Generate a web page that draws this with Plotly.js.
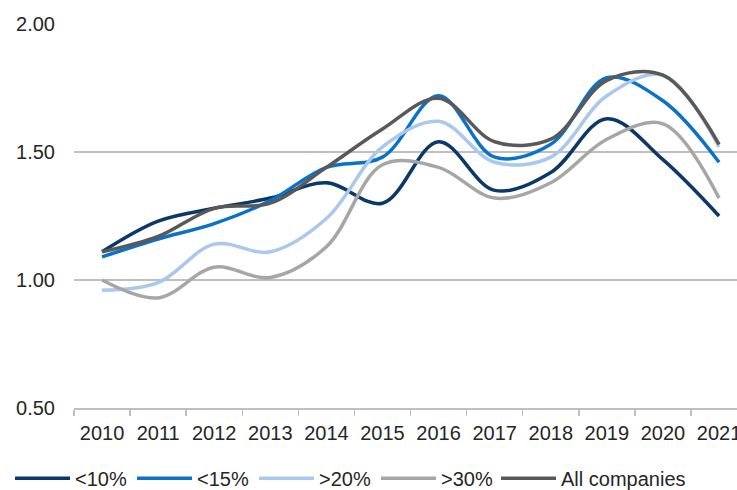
<!DOCTYPE html>
<html>
<head>
<meta charset="utf-8">
<script src="https://cdn.plot.ly/plotly-3.0.1.min.js"></script>
<style>
  html, body { margin: 0; padding: 0; background: #fff; }
  #chart { width: 737px; height: 490px; }
</style>
</head>
<body>
<div id="chart"></div>
<script>
var years = ['2010', '2011', '2012', '2013', '2014', '2015', '2016', '2017', '2018', '2019', '2020', '2021']

var below10 = [1.11, 1.23, 1.28, 1.32, 1.38, 1.30, 1.54, 1.35, 1.42, 1.63, 1.47, 1.25]
var below15 = [1.09, 1.16, 1.22, 1.31, 1.44, 1.48, 1.72, 1.48, 1.53, 1.79, 1.70, 1.46]
var above20 = [0.96, 0.99, 1.14, 1.11, 1.24, 1.52, 1.62, 1.46, 1.48, 1.72, 1.80, 1.52]
var above30 = [1.00, 0.93, 1.05, 1.01, 1.13, 1.45, 1.44, 1.32, 1.38, 1.55, 1.61, 1.32]
var allCompanies = [1.11, 1.17, 1.28, 1.30, 1.44, 1.59, 1.71, 1.54, 1.55, 1.78, 1.80, 1.53]

var names = ['<10%', '<15%', '>20%', '>30%', 'All companies']
var colors = ['#0b3866', '#0a72c8', '#a9c8ec', '#a6a6a6', '#595959']
var series = [below10, below15, above20, above30, allCompanies]

// last entry goes in its own legend so the fixed entry width doesn't clip it
var data = series.map(function (ys, i) {
  return {
    x: years,
    y: ys,
    type: 'scatter',
    mode: 'lines',
    name: names[i],
    legend: i === 4 ? 'legend2' : 'legend',
    line: { color: colors[i], width: 3.5, shape: 'spline', smoothing: 1 },
    hoverinfo: 'skip'
  }
})

var legendBase = {
  orientation: 'h',
  xref: 'container',
  yref: 'container',
  xanchor: 'left',
  y: 0.024,
  yanchor: 'middle',
  itemwidth: 55,
  font: { size: 20, color: '#262626' },
  traceorder: 'normal'
}

var layout = {
  width: 737,
  height: 490,
  margin: { l: 74, r: 0, t: 24, b: 82 },
  paper_bgcolor: '#ffffff',
  plot_bgcolor: '#ffffff',
  font: { family: 'Liberation Sans, Arial, sans-serif', size: 20, color: '#262626' },
  showlegend: true,
  legend: Object.assign({}, legendBase, { x: 0.0136, entrywidth: 52 }),
  legend2: Object.assign({}, legendBase, { x: 0.673 }),
  xaxis: {
    type: 'category',
    range: [-0.5, 11.32],
    showgrid: false,
    showline: true,
    linecolor: '#bfbfbf',
    linewidth: 1.5,
    ticks: 'outside',
    tickson: 'boundaries',
    ticklen: 6,
    tickcolor: '#bfbfbf',
    tickwidth: 1.5,
    ticklabelstandoff: 6,
    zeroline: false,
    automargin: false,
    fixedrange: true
  },
  yaxis: {
    range: [0.5, 2.0],
    dtick: 0.5,
    tickformat: '.2f',
    showgrid: true,
    gridcolor: '#bfbfbf',
    gridwidth: 1.5,
    showline: false,
    zeroline: false,
    ticks: '',
    ticklabelstandoff: 18,
    automargin: false,
    fixedrange: true
  }
}

Plotly.newPlot('chart', data, layout, { displayModeBar: false, staticPlot: true })
</script>
</body>
</html>
